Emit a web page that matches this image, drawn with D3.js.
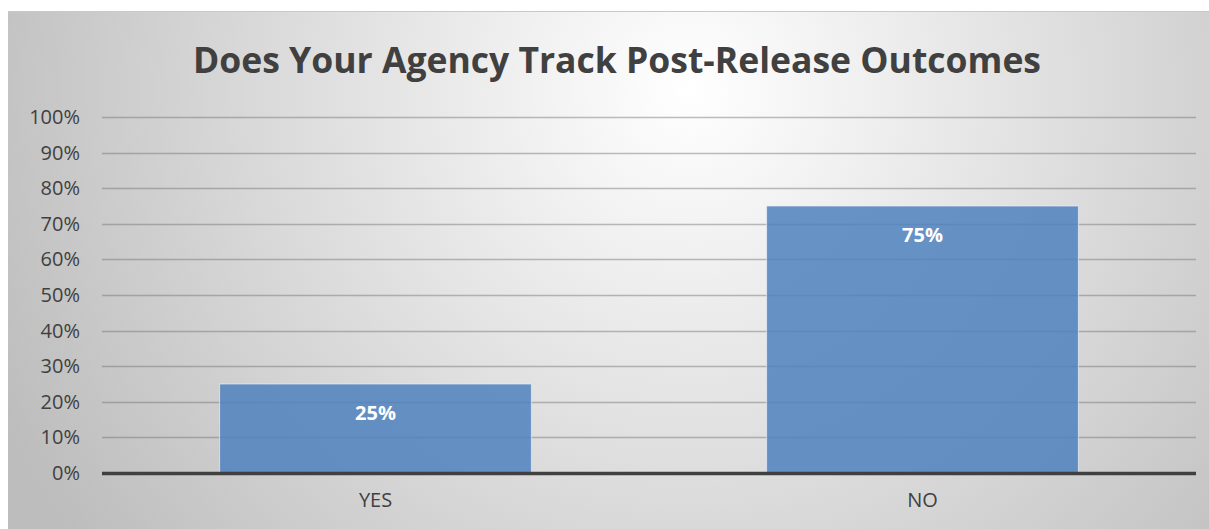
<!DOCTYPE html>
<html>
<head>
<meta charset="utf-8">
<script src="https://cdn.jsdelivr.net/npm/d3@7"></script>
<style>
  body { margin: 0; background: #fff; }
  svg { display: block; }
</style>
</head>
<body>
<div id="chart"></div>
<script>
// data
var categories = ['YES', 'NO'];
var values = [0.25, 0.75];
var yTicks = [0, 0.1, 0.2, 0.3, 0.4, 0.5, 0.6, 0.7, 0.8, 0.9, 1.0];
var title = 'Does Your Agency Track Post-Release Outcomes';

var W = 1209, H = 529;
var margin = {top: 117, right: 13, bottom: 56, left: 102};

var svg = d3.select('#chart').append('svg')
  .attr('width', W)
  .attr('height', H);

// background gradient
var defs = svg.append('defs');
var grad = defs.append('radialGradient')
  .attr('id', 'bg')
  .attr('gradientUnits', 'userSpaceOnUse')
  .attr('cx', 690).attr('cy', 90)
  .attr('r', 760);
grad.append('stop').attr('offset', '0%').attr('stop-color', '#ffffff');
grad.append('stop').attr('offset', '100%').attr('stop-color', '#bdbdbd');

svg.append('rect')
  .attr('x', 8).attr('y', 11)
  .attr('width', W - 8).attr('height', H - 11)
  .attr('fill', 'url(#bg)');
svg.append('line')
  .attr('x1', 8).attr('x2', W).attr('y1', 11.5).attr('y2', 11.5)
  .attr('stroke', '#c8c8c8').attr('stroke-width', 1);

var plotW = W - margin.left - margin.right;
var plotH = H - margin.top - margin.bottom;
var g = svg.append('g').attr('transform', 'translate(' + margin.left + ',' + margin.top + ')');

var x = d3.scaleBand().domain(categories).range([0, plotW]).paddingInner(0.43).paddingOuter(0.215);
var y = d3.scaleLinear().domain([0, 1]).range([plotH, 0]);

// gridlines
g.selectAll('.grid')
  .data(yTicks.slice(1))
  .enter().append('line')
  .attr('x1', 0).attr('x2', plotW)
  .attr('y1', function(d) { return Math.round(y(d)) + 0.5; })
  .attr('y2', function(d) { return Math.round(y(d)) + 0.5; })
  .attr('stroke', 'rgba(110,110,110,0.45)')
  .attr('stroke-width', 1.5);

// y axis labels
var yAxis = d3.axisLeft(y).tickValues(yTicks).tickFormat(d3.format('.0%')).tickSize(0).tickPadding(22);
var ya = g.append('g').call(yAxis);
ya.select('.domain').remove();
ya.selectAll('text')
  .attr('fill', '#404040')
  .style('font-family', 'Open Sans, sans-serif')
  .style('font-size', '20px');

// bars
g.selectAll('.bar')
  .data(values)
  .enter().append('rect')
  .attr('x', function(d, i) { return x(categories[i]); })
  .attr('y', function(d) { return y(d); })
  .attr('width', x.bandwidth())
  .attr('height', function(d) { return plotH - y(d); })
  .attr('fill', 'rgba(79,129,189,0.85)')
  .attr('stroke', 'rgba(235,240,248,0.7)')
  .attr('stroke-width', 1);

// value labels
g.selectAll('.val')
  .data(values)
  .enter().append('text')
  .attr('x', function(d, i) { return x(categories[i]) + x.bandwidth() / 2; })
  .attr('y', function(d) { return y(d) + 36; })
  .attr('text-anchor', 'middle')
  .attr('fill', '#ffffff')
  .style('font-family', 'Open Sans, sans-serif')
  .style('font-weight', 'bold')
  .style('font-size', '20px')
  .text(function(d) { return d3.format('.0%')(d); });

// x axis
var xAxis = d3.axisBottom(x).tickSize(0).tickPadding(20);
var xa = g.append('g').attr('transform', 'translate(0,' + plotH + ')').call(xAxis);
xa.select('.domain').remove();
xa.selectAll('text')
  .attr('fill', '#404040')
  .style('font-family', 'Open Sans, sans-serif')
  .style('font-size', '20px');
g.append('line')
  .attr('x1', 0).attr('x2', plotW)
  .attr('y1', plotH + 0.5).attr('y2', plotH + 0.5)
  .attr('stroke', '#404040')
  .attr('stroke-width', 3.5);

// title
svg.append('text')
  .attr('x', 617).attr('y', 73)
  .attr('text-anchor', 'middle')
  .attr('fill', '#404040')
  .style('font-family', 'Open Sans, sans-serif')
  .style('font-weight', 'bold')
  .style('font-size', '35.5px')
  .text(title);
</script>
</body>
</html>
